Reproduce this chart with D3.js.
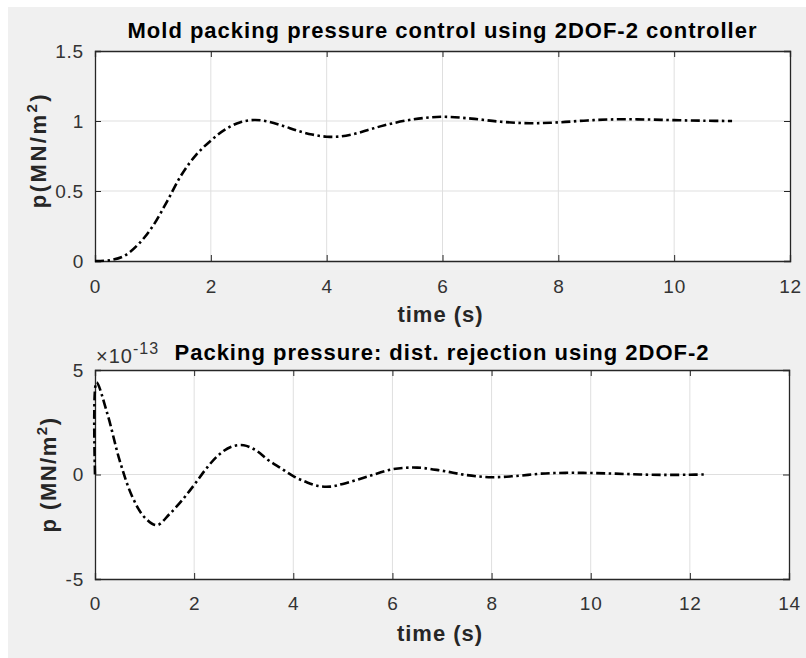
<!DOCTYPE html>
<html>
<head>
<meta charset="utf-8">
<script src="https://cdn.jsdelivr.net/npm/d3@7"></script>
<style>
  body { margin: 0; background: #ffffff; }
  svg { display: block; font-family: "Liberation Sans", Arial, sans-serif; }
</style>
</head>
<body>
<svg id="c" width="806" height="658"></svg>
<script>
// top panel: step response of packing pressure
const topTime = [0, 0.25, 0.5, 0.75, 1.0, 1.25, 1.5, 1.75, 2.0, 2.25, 2.5, 2.75, 3.0, 3.25, 3.5, 3.75,
  4.0, 4.25, 4.5, 4.75, 5.0, 5.5, 6.0, 6.5, 7.0, 7.5, 8.0, 8.5, 9.0, 9.5, 10.0, 10.5, 11.0];
const topValue = [0, 0.005, 0.035, 0.12, 0.25, 0.43, 0.62, 0.76, 0.86, 0.94, 0.99, 1.007, 0.995, 0.965, 0.93, 0.903,
  0.888, 0.89, 0.91, 0.94, 0.97, 1.012, 1.03, 1.017, 0.995, 0.984, 0.99, 1.004, 1.012, 1.011, 1.006, 1.002, 1.0];
const topXTicks = [0, 2, 4, 6, 8, 10, 12];
const topYTicks = [0, 0.5, 1, 1.5];

// bottom panel: disturbance rejection (values in MN/m^2, order 1e-13)
const botTime = [0, 0.03, 0.25, 0.5, 0.75, 1.0, 1.25, 1.5, 1.75, 2.0, 2.25, 2.5, 2.75, 3.0, 3.25, 3.5, 3.75,
  4.0, 4.25, 4.5, 4.75, 5.0, 5.5, 6.0, 6.5, 7.0, 7.5, 8.0, 8.5, 9.0, 9.5, 10.0, 10.5, 11.0, 11.5, 12.0, 12.3];
const botValue = [0, 4.4e-13, 2.9e-13, 0.65e-13, -1.05e-13, -2.05e-13, -2.42e-13, -1.9e-13, -1.25e-13, -0.5e-13,
  0.3e-13, 0.95e-13, 1.33e-13, 1.4e-13, 1.15e-13, 0.68e-13, 0.3e-13, -0.08e-13, -0.35e-13, -0.55e-13, -0.58e-13,
  -0.45e-13, -0.1e-13, 0.25e-13, 0.33e-13, 0.18e-13, -0.03e-13, -0.13e-13, -0.07e-13, 0.04e-13, 0.08e-13,
  0.07e-13, 0.04e-13, 0.0, -0.02e-13, -0.01e-13, 0.0];
const botXTicks = [0, 2, 4, 6, 8, 10, 12, 14];
const botYTicks = [-5e-13, 0, 5e-13];

const svg = d3.select('#c');
svg.append('rect').attr('x', 8).attr('y', 7).attr('width', 798).attr('height', 651).attr('fill', '#f0f0f0');

const axisColor = '#262626';
const gridColor = '#dfdfdf';

function panel(opts) {
  const { left, right, top, bottom } = opts;
  const x = d3.scaleLinear().domain(opts.xDomain).range([left, right]);
  const y = d3.scaleLinear().domain(opts.yDomain).range([bottom, top]);
  const g = svg.append('g');

  g.append('rect').attr('x', left).attr('y', top).attr('width', right - left).attr('height', bottom - top)
    .attr('fill', '#ffffff');

  // grid
  g.append('g').selectAll('line').data(opts.xTicks.slice(1, -1)).join('line')
    .attr('x1', d => x(d)).attr('x2', d => x(d)).attr('y1', top).attr('y2', bottom)
    .attr('stroke', gridColor).attr('stroke-width', 1);
  g.append('g').selectAll('line').data(opts.yTicks.slice(1, -1)).join('line')
    .attr('x1', left).attr('x2', right).attr('y1', d => y(d)).attr('y2', d => y(d))
    .attr('stroke', gridColor).attr('stroke-width', 1);

  // axes (ticks pointing inward, box on)
  const fmt = opts.fmt || (d => d);
  const bx = g.append('g').attr('transform', `translate(0,${bottom})`)
    .call(d3.axisBottom(x).tickValues(opts.xTicks).tickSize(-6).tickPadding(opts.xPad).tickFormat(d => d));
  const tx = g.append('g').attr('transform', `translate(0,${top})`)
    .call(d3.axisTop(x).tickValues(opts.xTicks).tickSize(-6).tickFormat(''));
  const ly = g.append('g').attr('transform', `translate(${left},0)`)
    .call(d3.axisLeft(y).tickValues(opts.yTicks).tickSize(-6).tickPadding(11).tickFormat(fmt));
  const ry = g.append('g').attr('transform', `translate(${right},0)`)
    .call(d3.axisRight(y).tickValues(opts.yTicks).tickSize(-6).tickFormat(''));
  [bx, tx, ly, ry].forEach(a => {
    a.select('.domain').attr('stroke', axisColor).attr('stroke-width', 1.3);
    a.selectAll('.tick line').attr('stroke', axisColor).attr('stroke-width', 1);
    a.selectAll('.tick text').attr('fill', '#333333').style('font-size', '19px')
      .style('letter-spacing', '0.8px')
      .style('font-family', '"Liberation Sans", Arial, sans-serif');
  });

  const line = d3.line().x((d, i) => x(opts.t[i])).y(d => y(d)).curve(d3.curveCatmullRom.alpha(0.5));
  g.append('path').datum(opts.v).attr('d', line)
    .attr('fill', 'none').attr('stroke', '#000000').attr('stroke-width', 2.6)
    .attr('stroke-dasharray', '9,3.5,2.5,3.5');

  // titles / labels
  g.append('text').attr('x', (left + right) / 2).attr('y', opts.titleY).attr('text-anchor', 'middle')
    .style('font-size', '22px').style('font-weight', 'bold').style('letter-spacing', '1px')
    .attr('fill', '#000').text(opts.title);
  g.append('text').attr('x', (left + right) / 2 - 2).attr('y', opts.xLabelY).attr('text-anchor', 'middle')
    .style('font-size', '22px').style('font-weight', 'bold').style('letter-spacing', '1px')
    .attr('fill', axisColor).text('time (s)');
  const yl = g.append('text')
    .attr('transform', `translate(${opts.yLabelX},${(top + bottom) / 2 + opts.yLabelDy}) rotate(-90)`)
    .attr('text-anchor', 'middle').style('font-size', '22px').style('font-weight', 'bold')
    .style('letter-spacing', opts.yLabelSpacing).attr('fill', axisColor);
  yl.append('tspan').text(opts.yLabel);
  yl.append('tspan').attr('dy', -9).style('font-size', '15px').text('2');
  yl.append('tspan').attr('dy', 9).text(')');
  return { x, y, g };
}

panel({
  left: 95, right: 790, top: 51, bottom: 261,
  xDomain: [0, 12], yDomain: [0, 1.5], xTicks: topXTicks, yTicks: topYTicks,
  t: topTime, v: topValue, xPad: 19,
  title: 'Mold packing pressure control using 2DOF-2 controller', titleY: 38,
  xLabelY: 322, yLabel: 'p(MN/m', yLabelX: 46, yLabelDy: -6, yLabelSpacing: '2.5px'
});

const bot = panel({
  left: 95, right: 789, top: 370, bottom: 579,
  xDomain: [0, 14], yDomain: [-5e-13, 5e-13], xTicks: botXTicks, yTicks: botYTicks,
  t: botTime, v: botValue, fmt: d => Math.round(d / 1e-13), xPad: 18,
  title: 'Packing pressure: dist. rejection using 2DOF-2', titleY: 360,
  xLabelY: 641, yLabel: 'p (MN/m', yLabelX: 56, yLabelDy: 0, yLabelSpacing: '1.5px'
});

// exponent multiplier
const mult = bot.g.append('text').attr('x', 96).attr('y', 363).attr('fill', '#333333')
  .style('font-size', '20px').style('letter-spacing', '1px');
mult.append('tspan').text('\u00d710');
mult.append('tspan').attr('dy', -9).style('font-size', '16px').text('-13');
</script>
</body>
</html>
